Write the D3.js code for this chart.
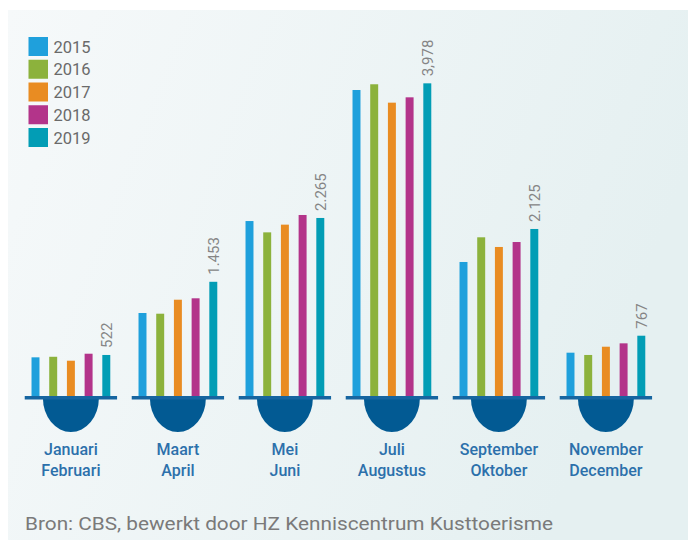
<!DOCTYPE html>
<html><head><meta charset="utf-8">
<script src="https://cdn.jsdelivr.net/npm/d3@7"></script>
<style>html,body{margin:0;padding:0;background:#fff;}svg{display:block;}</style>
</head><body>
<script>
// ---- data ----
const periods = ["Januari Februari","Maart April","Mei Juni","Juli Augustus","September Oktober","November December"];
const periodLine1 = ["Januari","Maart","Mei","Juli","September","November"];
const periodLine2 = ["Februari","April","Juni","Augustus","Oktober","December"];
const years = ["2015","2016","2017","2018","2019"];
const v2015 = [492,1056,2226,3893,1705,551];
const v2016 = [499,1047,2082,3966,2019,522];
const v2017 = [449,1225,2180,3732,1896,627];
const v2018 = [538,1243,2303,3800,1959,670];
const v2019 = [522,1453,2265,3978,2125,767];
const labels2019 = ["522","1.453","2.265","3,978","2.125","767"];
const yearColors = ["#1fa0dc","#8cb23c","#e98c22","#b3348a","#029db5"];
const source = "Bron: CBS, bewerkt door HZ Kenniscentrum Kusttoerisme";

const series = [v2015,v2016,v2017,v2018,v2019];
const W = 688, H = 540;
const svg = d3.select("body").append("svg").attr("width",W).attr("height",H);

const defs = svg.append("defs");
const g = defs.append("linearGradient").attr("id","bg").attr("x1","0").attr("x2","1").attr("y1","0").attr("y2","0.3");
g.append("stop").attr("offset","0").attr("stop-color","#f6f9fa");
g.append("stop").attr("offset","1").attr("stop-color","#e5f0f1");
svg.append("rect").attr("x",8).attr("y",10).attr("width",W-8).attr("height",H-10).attr("fill","url(#bg)");

const x = d3.scaleBand().domain(periods).range([17.4,659.4]).padding(0);
const xi = d3.scaleBand().domain(years).range([-44.25,44.25]).paddingInner(0.55).paddingOuter(0.275);
const y = d3.scaleLinear().domain([0,4000]).range([396,81.6]);
const base = y(0);

const grp = svg.selectAll("g.period").data(periods).join("g")
  .attr("class","period")
  .attr("transform",d=>`translate(${x(d)+x.bandwidth()/2},0)`);

// bars
grp.each(function(p,pi){
  const sel = d3.select(this);
  years.forEach((yr,yi)=>{
    const v = series[yi][pi];
    sel.append("rect")
      .attr("x",xi(yr)).attr("width",xi.bandwidth())
      .attr("y",y(v)).attr("height",base-y(v))
      .attr("fill",yearColors[yi]);
  });
  // value label for 2019
  const v = v2019[pi];
  const cx = xi("2019")+xi.bandwidth()/2;
  sel.append("text")
    .attr("transform",`translate(${cx+5.2},${y(v)-7}) rotate(-90)`)
    .attr("font-family","Roboto, 'Noto Sans', sans-serif")
    .attr("font-size",15).attr("fill","#858585")
    .text(labels2019[pi]);
});

// base plate and bowl
const rx = 28, ry = 34;
grp.append("path")
  .attr("d",`M${-rx},${base+2} A${rx},${ry} 0 0 0 ${rx},${base+2} Z`)
  .attr("fill","#025a93");
grp.append("rect")
  .attr("x",-x.bandwidth()*0.863/2).attr("width",x.bandwidth()*0.863)
  .attr("y",base).attr("height",3.5).attr("fill","#1665a0");

// category labels
grp.append("text").attr("y",455).attr("text-anchor","middle")
  .attr("font-family","Roboto, sans-serif").attr("font-weight",500).attr("font-size",16)
  .attr("fill","#2c70ab").text((d,i)=>periodLine1[i]);
grp.append("text").attr("y",476).attr("text-anchor","middle")
  .attr("font-family","Roboto, sans-serif").attr("font-weight",500).attr("font-size",16)
  .attr("fill","#2c70ab").text((d,i)=>periodLine2[i]);

// legend
const leg = svg.append("g");
years.forEach((yr,i)=>{
  const cy = 46.5 + i*22.75;
  leg.append("rect").attr("x",28.5).attr("y",cy-9.5).attr("width",19.5).attr("height",19).attr("fill",yearColors[i]);
  leg.append("text").attr("x",53.5).attr("y",cy+6)
    .attr("font-family","Roboto, sans-serif").attr("font-size",16.5).attr("fill","#6a6a6a").text(yr);
});

// source
svg.append("text").attr("x",25).attr("y",530)
  .attr("font-family","Roboto, sans-serif").attr("font-size",18).attr("fill","#7a7a7a")
  .attr("textLength",528).attr("lengthAdjust","spacingAndGlyphs")
  .text(source);
</script>
</body></html>
